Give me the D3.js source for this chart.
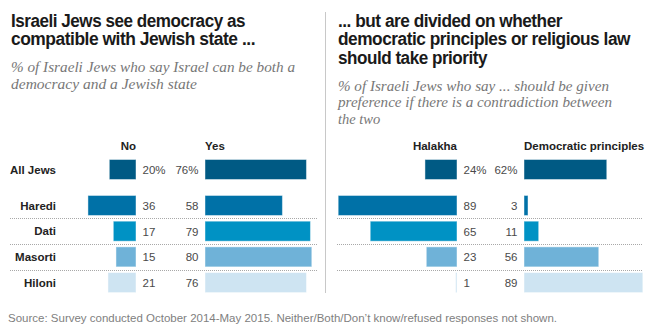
<!DOCTYPE html>
<html>
<head>
<meta charset="utf-8">
<script src="https://cdn.jsdelivr.net/npm/d3@7"></script>
<style>
  body { margin: 0; background: #fff; }
  svg { font-family: "Liberation Sans", Arial, sans-serif; }
</style>
</head>
<body>
<div id="chart"></div>
<script>
// groups, one row each
var groups = ["All Jews", "Haredi", "Dati", "Masorti", "Hiloni"];

// left panel: can Israel be both democratic and Jewish?
var saysNo = [20, 36, 17, 15, 21];
var saysYes = [76, 58, 79, 80, 76];

// right panel: what gets preference if they contradict
var halakha = [24, 89, 65, 23, 1];
var democratic = [62, 3, 11, 56, 89];

var colors = ["#005a84", "#0071a7", "#0092c4", "#6fb2d8", "#cee4f2"];

var W = 649, H = 327;

var svg = d3.select("#chart").append("svg")
  .attr("width", W)
  .attr("height", H);

// percent -> bar length
var x = d3.scaleLinear().domain([0, 100]).range([0, 133.5]);

// row centers; the subgroups sit a bit further down than the total row
var rowIdx = groups.map((g, i) => i === 0 ? 0 : i + 0.4);
var y = d3.scaleLinear().domain([0, 1]).range([169.5, 195.2]);
var barH = 20;

// titles and subtitles; a line with an end x gets fitted to it
function lines(g, rows, opts) {
  rows.forEach(function (r, i) {
    var t = g.append("text")
      .attr("x", opts.x)
      .attr("y", opts.y + i * opts.lh)
      .attr("font-size", opts.size)
      .attr("font-weight", opts.weight || "normal")
      .attr("font-style", opts.style || "normal")
      .attr("letter-spacing", opts.spacing || 0)
      .attr("fill", opts.fill)
      .text(r[0]);
    if (opts.family) t.style("font-family", opts.family);
    if (r[1]) {
      t.attr("textLength", r[1] - opts.x)
        .attr("lengthAdjust", "spacingAndGlyphs");
    }
  });
}

var titles = svg.append("g");
lines(titles, [["Israeli Jews see democracy as", 245], ["compatible with Jewish state ...", 255]],
  { x: 11, y: 26.5, lh: 18.6, size: 18, spacing: -0.5, weight: "bold", fill: "#1a1a1a" });
lines(titles, [["... but are divided on whether", 562], ["democratic principles or religious law", 630], ["should take priority", 487]],
  { x: 338, y: 26.5, lh: 18.6, size: 18, spacing: -0.5, weight: "bold", fill: "#1a1a1a" });

var serif = "'Liberation Serif', 'Times New Roman', serif";
lines(titles, [["% of Israeli Jews who say Israel can be both a", 295], ["democracy and a Jewish state", 197]],
  { x: 11, y: 72, lh: 16.8, size: 14.5, style: "italic", family: serif, fill: "#777" });
lines(titles, [["% of Israeli Jews who say ... should be given", 609], ["preference if there is a contradiction between", 612], ["the two", null]],
  { x: 338, y: 90.5, lh: 16.8, size: 14.5, style: "italic", family: serif, fill: "#777" });

// panel divider
svg.append("line")
  .attr("x1", 325.5).attr("x2", 325.5)
  .attr("y1", 12).attr("y2", 293)
  .attr("stroke", "#c8c8c8")
  .attr("stroke-width", 1);

// dotted separators between the subgroup rows
var seps = d3.range(1, groups.length - 1).map(i => (y(rowIdx[i]) + y(rowIdx[i + 1])) / 2);
[[10, 318], [337, 643]].forEach(function (span) {
  svg.append("g").selectAll("line")
    .data(seps)
    .join("line")
    .attr("x1", span[0]).attr("x2", span[1])
    .attr("y1", d => Math.round(d) + 0.5)
    .attr("y2", d => Math.round(d) + 0.5)
    .attr("stroke", "#a8a8a8")
    .attr("stroke-dasharray", "1,1");
});

// row labels
svg.append("g").selectAll("text")
  .data(groups)
  .join("text")
  .attr("x", 56)
  .attr("y", (d, i) => y(rowIdx[i]) + 4.3)
  .attr("text-anchor", "end")
  .attr("font-size", 11.5)
  .attr("font-weight", "bold")
  .attr("fill", "#222")
  .text(d => d);

// one diverging pair of bars with the values between them
function panel(leftVals, rightVals, leftEdge, rightEdge, leftName, rightName) {
  var g = svg.append("g");

  g.append("text")
    .attr("x", leftEdge).attr("y", 150)
    .attr("text-anchor", "end")
    .attr("font-size", 11.5).attr("font-weight", "bold").attr("fill", "#222")
    .text(leftName);
  g.append("text")
    .attr("x", rightEdge).attr("y", 150)
    .attr("font-size", 11.5).attr("font-weight", "bold").attr("fill", "#222")
    .text(rightName);

  g.selectAll("rect.l")
    .data(leftVals)
    .join("rect")
    .attr("class", "l")
    .attr("x", d => leftEdge - x(d))
    .attr("y", (d, i) => y(rowIdx[i]) - barH / 2)
    .attr("width", d => x(d))
    .attr("height", barH)
    .attr("fill", (d, i) => colors[i])
    .attr("stroke", "#fff")
    .attr("stroke-opacity", 0.45)
    .attr("stroke-width", 1);

  g.selectAll("rect.r")
    .data(rightVals)
    .join("rect")
    .attr("class", "r")
    .attr("x", rightEdge)
    .attr("y", (d, i) => y(rowIdx[i]) - barH / 2)
    .attr("width", d => x(d))
    .attr("height", barH)
    .attr("fill", (d, i) => colors[i])
    .attr("stroke", "#fff")
    .attr("stroke-opacity", 0.45)
    .attr("stroke-width", 1);

  g.selectAll("text.lv")
    .data(leftVals)
    .join("text")
    .attr("class", "lv")
    .attr("x", leftEdge + 6.5)
    .attr("y", (d, i) => y(rowIdx[i]) + 4.5)
    .attr("font-size", 11.5).attr("fill", "#4a4a4a")
    .text((d, i) => i === 0 ? d + "%" : d);

  g.selectAll("text.rv")
    .data(rightVals)
    .join("text")
    .attr("class", "rv")
    .attr("x", rightEdge - 6.5)
    .attr("y", (d, i) => y(rowIdx[i]) + 4.5)
    .attr("text-anchor", "end")
    .attr("font-size", 11.5).attr("fill", "#4a4a4a")
    .text((d, i) => i === 0 ? d + "%" : d);
}

panel(saysNo, saysYes, 136, 205, "No", "Yes");
panel(halakha, democratic, 457, 524, "Halakha", "Democratic principles");

svg.append("text")
  .attr("x", 8).attr("y", 321.5)
  .attr("font-size", 11).attr("fill", "#808080")
  .attr("textLength", 557 - 8)
  .attr("lengthAdjust", "spacingAndGlyphs")
  .text("Source: Survey conducted October 2014-May 2015. Neither/Both/Don\u2019t know/refused responses not shown.");
</script>
</body>
</html>
